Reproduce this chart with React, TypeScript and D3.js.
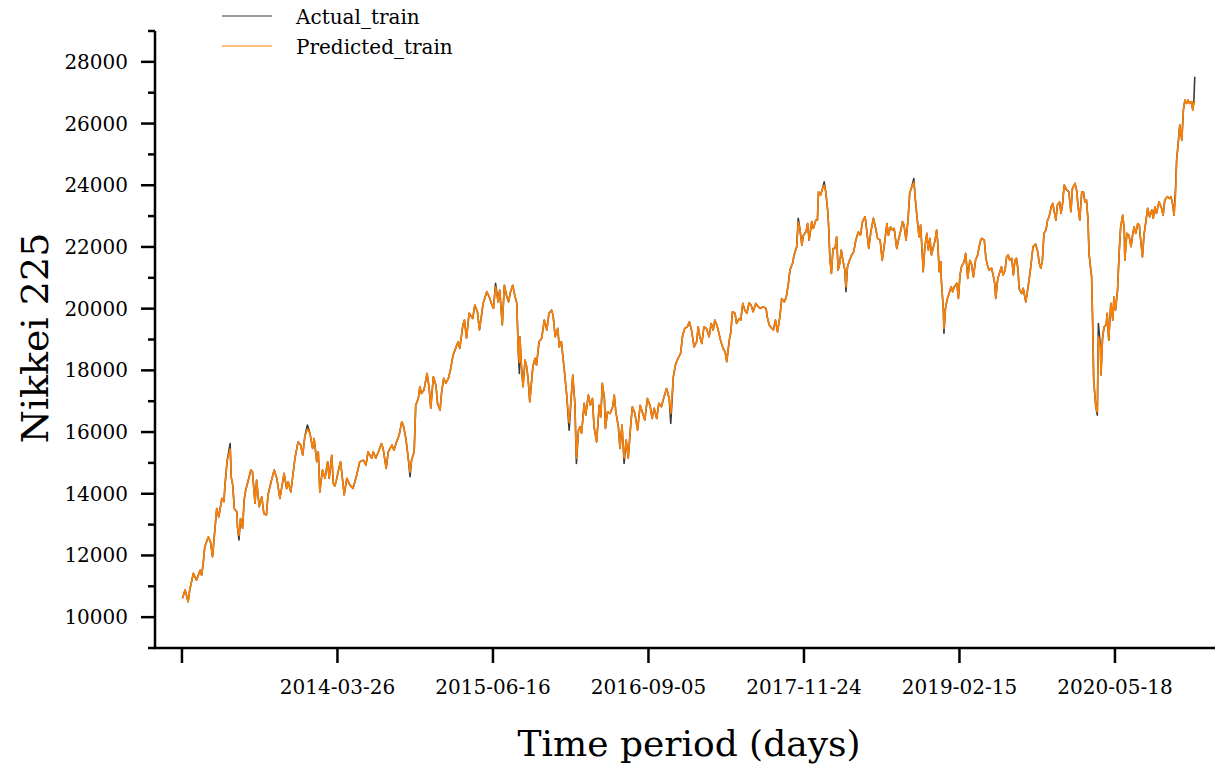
import React from "react";
import * as d3 from "d3";

// trading-day index (x) of each sample
const days = [
  1,6,12,15,22,28,35,38,41,44,
  51,55,59,64,67,71,77,81,83,87,
  93,95,98,101,106,107,110,113,117,120,
  123,128,133,136,141,144,149,154,158,163,
  166,172,178,183,189,197,202,205,210,214,
  218,224,229,233,237,242,247,252,255,260,
  263,266,271,276,281,284,289,292,295,298,
  302,306,311,313,318,324,330,337,343,350,
  355,359,366,369,374,379,385,388,394,398,
  405,409,414,419,424,427,432,437,440,443,
  448,451,456,459,462,467,471,473,477,480,
  485,490,493,498,501,505,509,514,518,523,
  529,533,536,542,545,549,554,561,565,570,
  574,578,581,588,593,597,601,605,610,613,
  618,622,626,630,634,638,642,646,649,651,
  652,655,658,662,665,668,671,677,681,684,
  689,694,699,704,708,713,716,720,725,728,
  732,734,739,742,747,751,754,758,761,765,
  768,771,776,779,784,788,792,795,800,805,
  808,811,815,817,821,826,831,834,837,842,
  845,849,853,857,861,866,869,874,879,884,
  888,893,898,903,907,911,916,920,925,930,
  935,940,943,948,952,957,962,966,970,975,
  979,983,988,993,996,999,1003,1007,1012,1017,
  1021,1025,1028,1032,1036,1039,1044,1048,1051,1056,
  1059,1062,1067,1070,1075,1078,1082,1086,1090,1094,
  1098,1102,1107,1112,1116,1121,1127,1129,1133,1138,
  1141,1145,1149,1154,1157,1162,1166,1170,1173,1178,
  1181,1186,1189,1192,1196,1199,1204,1207,1210,1215,
  1218,1223,1226,1228,1232,1236,1239,1242,1246,1248,
  1250,1253,1256,1260,1263,1266,1269,1272,1275,1279,
  1281,1284,1288,1292,1296,1300,1305,1309,1313,1318,
  1321,1325,1329,1334,1339,1342,1347,1351,1355,1360,
  1363,1367,1371,1374,1379,1383,1387,1390,1393,1397,
  1401,1404,1408,1412,1415,1419,1422,1425,1429,1430,
  1433,1437,1440,1443,1446,1449,1453,1456,1458,1461,
  1464,1465,1469,1470,1473,1476,1480,1484,1487,1490,
  1495,1498,1501,1504,1509,1512,1516,1520,1523,1527,
  1531,1535,1540,1543,1548,1551,1554,1557,1562,1565,
  1568,1570,1574,1577,1581,1584,1588,1591,1594,1597,
  1601,1604,1607,1610,1613,1615,1620,1623,1628,1632,
  1636,1639,1642,1647,1651,1654,1657,1660,1663,1667,
  1670,1673,1677,1680,1683,1686,1689,1693,1696,1699,
  1702,1707,1711,1715,1718,1723,1726,1729,1732,1736,
  1739,1742,1745,1748,1750,1753,1755,1757,1759,1763,
  1766,1768,1772,1773,1776,1779,1783,1785,1788,1792,
  1796,1798,1801,1805,1808,1811,1815,1818,1819,1823,
  1827,1831,1834,1837,1840,1844,1847,1849,1853,1856,
  1860,1863,1867,1871,1874,1877,1880,1885,1890,1893,
  1896,1901,1905,1908,1911,1914,1917,1919,1922,1925,
  1929,1932,1935,1938,1941,1944,1948,1950,1952,1954,
];

const actualTrain = [
  10610,10880,10500,10880,11420,11200,11520,11360,11740,12280,
  12600,12440,11960,12930,13520,13250,13850,13740,14280,15040,
  15630,14550,14280,13520,13410,12930,12500,13200,12880,13790,
  14120,14440,14770,14710,13690,14440,13580,13900,13360,13310,
  13960,14390,14770,14500,13850,14660,14170,14390,14060,14600,
  15150,15680,15580,15250,15850,16230,15960,15470,15790,15040,
  15360,14060,14770,14500,15040,14500,15250,14340,14250,14440,
  14770,15040,14280,13960,14500,14280,14170,14600,15040,15090,
  14930,15360,15150,15360,15150,15360,15630,15470,14820,15360,
  15580,15410,15680,15900,16330,16230,15790,15090,14550,15090,
  15360,16870,17090,17470,17250,17360,17740,17900,17410,16770,
  17790,17520,16930,16710,17300,17740,17580,17740,18010,18490,
  18760,18930,18710,19470,19630,19040,19850,19680,20120,19900,
  19310,19790,20170,20550,20380,20170,20010,20820,20220,20600,
  19470,20760,20440,20220,20550,20760,20440,20170,18550,17900,
  19090,18120,17470,18330,18120,17680,16980,18120,18390,18170,
  18930,19040,19630,19310,19850,19950,19790,19090,19360,18760,
  18930,18600,17790,17250,16060,17140,17850,16930,14980,16060,
  16170,15960,16930,16550,17200,16870,17090,16170,15680,16870,
  16490,17580,17090,16120,16660,16600,16820,17200,16660,16170,
  15470,16230,14980,15740,15150,16280,16820,16600,16060,16870,
  16660,16390,17090,16870,16440,16770,16440,16930,16820,17140,
  17410,17090,16280,17790,18170,18390,18550,19140,19360,19410,
  19570,19310,18760,18930,19410,19090,18870,19410,19360,19090,
  19520,19310,19630,19470,19200,18980,18710,18600,18280,18980,
  19250,19900,19850,19520,19680,19630,20170,19950,19850,20190,
  20120,19900,20170,20060,20010,20060,20010,19740,19470,19360,
  19310,19630,19250,19790,20330,20220,20380,20820,21250,21470,
  21740,22010,22930,22600,22060,22380,22490,22760,22220,22820,
  22600,22870,22870,23790,23680,23900,24110,23790,23140,22550,
  21630,21140,21950,21950,22330,21250,21470,21900,21570,21250,
  20550,21360,21570,21740,21840,22220,22490,22380,22820,22980,
  22550,21950,22490,22930,22550,22280,22220,21570,22060,22760,
  22380,22650,22550,22600,21950,22280,22550,22820,22710,22220,
  22930,23740,23950,24220,23520,22820,22330,22710,21570,21200,
  21950,22440,21900,22280,21740,21950,22220,22550,22170,21200,
  21520,20930,19950,19200,20010,20280,20490,20710,20550,20710,
  20820,20330,21090,21360,21520,21790,20980,21570,21470,21030,
  21570,21740,22170,22280,22220,21630,21410,21250,21310,21090,
  20820,20330,20980,21140,21360,21090,21250,21680,21740,21570,
  21630,21090,21570,21630,21250,20660,20490,20660,20220,20660,
  21140,21570,22010,22090,21840,21470,21310,21570,22440,22550,
  22870,22980,23300,23410,23140,22870,23360,23460,23090,23410,
  24010,23840,23790,23140,23900,24060,23840,23300,22870,23790,
  23790,23460,23520,22870,21790,21310,21030,19520,17680,16820,
  16550,19520,18760,17850,19040,19410,19470,19850,18980,20170,
  19630,20380,19950,20600,21790,22650,23030,22550,21570,22440,
  22380,22010,22380,22650,22440,22760,22710,22330,21680,22380,
  22870,23250,22980,23200,22930,23300,23090,23460,23250,23030,
  23520,23630,23570,23630,23410,23030,23950,24820,25360,25950,
  25460,26440,26760,26650,26760,26650,26710,26440,26650,27520,
];

const predictedTrain = [
  10610,10880,10500,10880,11420,11200,11520,11360,11740,12280,
  12600,12440,11960,12930,13520,13250,13850,13740,14280,15040,
  15450,14550,14280,13520,13410,12930,12650,13200,12880,13790,
  14120,14440,14770,14710,13690,14440,13580,13900,13360,13310,
  13960,14390,14770,14500,13850,14660,14170,14390,14060,14600,
  15150,15680,15580,15250,15850,16100,15960,15470,15790,15040,
  15360,14060,14770,14500,15040,14500,15250,14340,14250,14440,
  14770,15040,14280,13960,14500,14280,14170,14600,15040,15090,
  14930,15360,15150,15360,15150,15360,15630,15470,14820,15360,
  15580,15410,15680,15900,16330,16230,15790,15090,14700,15090,
  15360,16870,17090,17470,17250,17360,17740,17900,17410,16770,
  17790,17520,16930,16710,17300,17740,17580,17740,18010,18490,
  18760,18930,18710,19470,19630,19040,19850,19680,20120,19900,
  19310,19790,20170,20550,20380,20170,20010,20700,20220,20600,
  19470,20760,20440,20220,20550,20760,20440,20170,18550,18250,
  19090,18120,17470,18330,18120,17680,16980,18120,18390,18170,
  18930,19040,19630,19310,19850,19950,19790,19090,19360,18760,
  18930,18600,17790,17250,16300,17140,17850,16930,15150,16060,
  16170,15960,16930,16550,17200,16870,17090,16170,15680,16870,
  16490,17580,17090,16120,16660,16600,16820,17200,16660,16170,
  15470,16230,15150,15740,15150,16280,16820,16600,16060,16870,
  16660,16390,17090,16870,16440,16770,16440,16930,16820,17140,
  17410,17090,16600,17790,18170,18390,18550,19140,19360,19410,
  19570,19310,18760,18930,19410,19090,18870,19410,19360,19090,
  19520,19310,19630,19470,19200,18980,18710,18600,18280,18980,
  19250,19900,19850,19520,19680,19630,20170,19950,19850,20190,
  20120,19900,20170,20060,20010,20060,20010,19740,19470,19360,
  19310,19630,19250,19790,20330,20220,20380,20820,21250,21470,
  21740,22010,22800,22600,22060,22380,22490,22760,22220,22820,
  22600,22870,22870,23790,23680,23900,24000,23790,23140,22550,
  21630,21140,21950,21950,22330,21250,21470,21900,21570,21250,
  20700,21360,21570,21740,21840,22220,22490,22380,22820,22980,
  22550,21950,22490,22930,22550,22280,22220,21570,22060,22760,
  22380,22650,22550,22600,21950,22280,22550,22820,22710,22220,
  22930,23740,23950,24100,23520,22820,22330,22710,21570,21200,
  21950,22440,21900,22280,21740,21950,22220,22550,22170,21200,
  21520,20930,19950,19350,20010,20280,20490,20710,20550,20710,
  20820,20330,21090,21360,21520,21790,20980,21570,21470,21030,
  21570,21740,22170,22280,22220,21630,21410,21250,21310,21090,
  20820,20330,20980,21140,21360,21090,21250,21680,21740,21570,
  21630,21090,21570,21630,21250,20660,20490,20660,20220,20660,
  21140,21570,22010,22090,21840,21470,21310,21570,22440,22550,
  22870,22980,23300,23410,23140,22870,23360,23460,23090,23410,
  24010,23840,23790,23140,23900,24060,23840,23300,22870,23790,
  23790,23460,23520,22870,21790,21310,21030,19520,17680,16820,
  16650,19100,18760,17850,19040,19410,19470,19850,18980,20170,
  19630,20380,19950,20600,21790,22650,23030,22550,21570,22440,
  22380,22010,22380,22650,22440,22760,22710,22330,21680,22380,
  22870,23250,22980,23200,22930,23300,23090,23460,23250,23030,
  23520,23630,23570,23630,23410,23030,23700,24820,25360,25950,
  25460,26440,26760,26650,26760,26650,26710,26440,26650,26750,
];

const xTickValues = [0, 300, 600, 900, 1200, 1500, 1800];
const xTickLabels = ["", "2014-03-26", "2015-06-16", "2016-09-05", "2017-11-24", "2019-02-15", "2020-05-18"];
const yMajorTicks = [10000, 12000, 14000, 16000, 18000, 20000, 22000, 24000, 26000, 28000];
const yMinorTicks = [9000, 11000, 13000, 15000, 17000, 19000, 21000, 23000, 25000, 27000, 29000];
const seriesNames = ["Actual_train", "Predicted_train"];
const seriesColors = ["#3a3a3a", "#ff8000"];

const W = 1215;
const H = 770;
const FONT = "'DejaVu Serif', Georgia, serif";

export default function App() {
  const x = d3.scaleLinear().domain([-52, 1993]).range([155, 1215]);
  const y = d3.scaleLinear().domain([9000, 29000]).range([648, 31]);

  const mk = (vals: number[]) =>
    d3
      .line<number>()
      .x((_, i) => x(days[i]))
      .y((d) => y(d))(vals) || "";

  const x0 = x.range()[0];
  const yBottom = y.range()[0];
  const yTop = y.range()[1];

  return (
    <svg
      width={W}
      height={H}
      style={{ position: "absolute", left: 0, top: 0, background: "#fff" }}
      fontFamily={FONT}
    >
      <rect x={0} y={0} width={W} height={H} fill="#fff" />
      {/* series */}
      <path d={mk(actualTrain)} fill="none" stroke={seriesColors[0]} strokeWidth={1.6} strokeLinejoin="round" />
      <path d={mk(predictedTrain)} fill="none" stroke={seriesColors[1]} strokeWidth={1.6} strokeLinejoin="round" />

      {/* spines */}
      <line x1={x0} x2={x0} y1={yTop} y2={yBottom} stroke="#000" strokeWidth={2.5} />
      <line x1={x0 - 1.25} x2={W} y1={yBottom} y2={yBottom} stroke="#000" strokeWidth={2.5} />

      {/* y ticks */}
      {yMajorTicks.map((t) => (
        <g key={"ym" + t}>
          <line x1={x0 - 14} x2={x0} y1={y(t)} y2={y(t)} stroke="#000" strokeWidth={2.5} />
          <text x={x0 - 27} y={y(t)} textAnchor="end" dominantBaseline="central" fontSize={20} fill="#000">
            {t}
          </text>
        </g>
      ))}
      {yMinorTicks.map((t) => (
        <line key={"yn" + t} x1={x0 - 7} x2={x0} y1={y(t)} y2={y(t)} stroke="#000" strokeWidth={2.5} />
      ))}

      {/* x ticks */}
      {xTickValues.map((t, i) => (
        <g key={"xm" + t}>
          <line x1={x(t)} x2={x(t)} y1={yBottom} y2={yBottom + 15} stroke="#000" strokeWidth={2.5} />
          <text x={x(t)} y={yBottom + 46} textAnchor="middle" fontSize={20} fill="#000">
            {xTickLabels[i]}
          </text>
        </g>
      ))}

      {/* axis titles */}
      <text x={689} y={756} textAnchor="middle" fontSize={36} fill="#000">
        Time period (days)
      </text>
      <text transform="translate(48,338) rotate(-90)" textAnchor="middle" fontSize={38} fill="#000">
        Nikkei 225
      </text>

      {/* legend */}
      {seriesNames.map((n, i) => (
        <g key={n}>
          <line x1={222} x2={272} y1={16 + i * 30} y2={16 + i * 30} stroke={seriesColors[i]} strokeWidth={1.1} />
          <text x={296} y={17 + i * 30} dominantBaseline="central" fontSize={20} fill="#000">
            {n}
          </text>
        </g>
      ))}
    </svg>
  );
}
